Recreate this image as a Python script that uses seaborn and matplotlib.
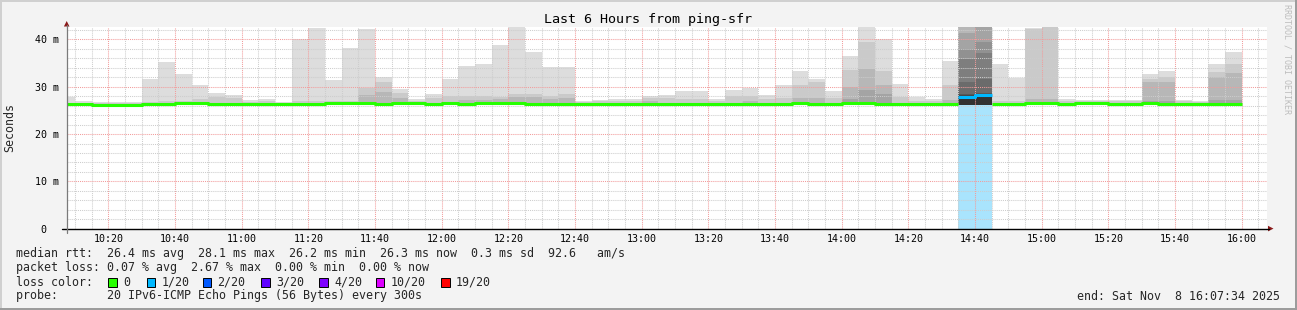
import numpy as np
import pandas as pd
import matplotlib
matplotlib.use("Agg")
import matplotlib.pyplot as plt
import seaborn as sns
from matplotlib.patches import Rectangle, Polygon
from matplotlib.lines import Line2D

# ---------------- data ----------------
# bar end times: 5-minute steps, 10:10 .. 16:00
bar_end = pd.date_range("2025-11-08 10:10", "2025-11-08 16:00", freq="5min")

median_rtt = [26.26, 26.26, 26.2, 26.2, 26.2, 26.26, 26.4, 26.47, 26.47, 26.4,
              26.33, 26.33, 26.33, 26.3, 26.33, 26.4, 26.47, 26.47, 26.47, 26.4,
              26.47, 26.47, 26.4, 26.47, 26.4, 26.6, 26.6, 26.54, 26.4, 26.26,
              26.4, 26.4, 26.33, 26.33, 26.33, 26.33, 26.33, 26.33, 26.33, 26.33,
              26.4, 26.4, 26.33, 26.33, 26.47, 26.4, 26.33, 26.47, 26.54, 26.4,
              26.33, 26.33, 26.4, 26.4, 27.8, 28.15, 26.4, 26.4, 26.47, 26.47,
              26.4, 26.47, 26.47, 26.4, 26.4, 26.47, 26.4, 26.4, 26.4, 26.4, 26.4]

loss_count = [0] * 54 + [1, 1] + [0] * 15

rtt_min = [26.0, 26.0, 25.9, 25.9, 25.9, 26.0, 26.0, 26.1, 26.1, 26.0,
           26.0, 26.0, 26.0, 26.0, 26.0, 26.1, 26.1, 26.1, 26.1, 26.0,
           26.1, 26.1, 26.0, 26.1, 26.0, 26.2, 26.1, 26.1, 26.0, 25.9,
           26.0, 26.1, 26.0, 26.0, 26.0, 26.0, 26.0, 26.0, 26.0, 26.0,
           26.1, 26.1, 26.0, 26.0, 26.1, 26.0, 26.0, 26.1, 26.1, 26.0,
           26.0, 26.0, 26.1, 26.1, 26.1, 26.1, 26.1, 26.1, 26.1, 26.1,
           26.0, 26.1, 26.1, 26.1, 26.1, 26.1, 26.1, 26.1, 26.1, 26.1, 26.1]

# smoke layer tops (outermost ping pair first)
smoke_1 = [27.8, 26.9, 26.8, 26.7, 26.7, 31.6, 35.1, 32.7, 30.4, 28.7,
           28.2, 27.2, 27.4, 26.8, 40.0, 42.4, 31.4, 38.2, 42.2, 32.0,
           29.5, 27.3, 28.5, 31.7, 34.4, 34.8, 38.8, 42.6, 37.3, 34.1,
           34.2, 26.9, 27.2, 27.4, 27.4, 28.0, 28.2, 29.1, 29.1, 27.4,
           29.3, 29.7, 28.2, 30.4, 33.3, 31.7, 29.1, 36.5, 43.0, 40.0,
           30.6, 27.8, 27.3, 35.3, 45.0, 45.0, 34.8, 31.9, 42.3, 43.0,
           27.3, 27.2, 27.1, 27.1, 27.2, 32.7, 33.3, 27.1, 26.9, 34.8, 37.3]

smoke_2 = [26.6, 26.6, 26.5, 26.5, 26.5, 26.7, 26.9, 26.9, 27.3, 27.9,
           27.5, 26.8, 26.9, 26.6, 26.9, 26.9, 26.9, 26.9, 29.6, 31.0,
           28.7, 26.9, 27.6, 28.0, 28.0, 28.0, 27.8, 28.4, 28.5, 28.0,
           28.4, 26.7, 27.0, 27.0, 27.0, 27.6, 27.5, 27.3, 27.3, 27.0,
           28.0, 28.0, 27.3, 27.6, 30.4, 31.0, 27.6, 33.5, 39.3, 33.2,
           27.9, 27.0, 27.0, 30.4, 44.0, 44.5, 26.9, 26.9, 42.1, 42.8,
           27.0, 27.0, 26.9, 26.9, 27.0, 31.7, 32.1, 26.9, 26.7, 33.1, 34.7]

smoke_3 = [None] * 18 + [28.3, 28.9, 27.6, None, None, None, 27.1, 27.1, 27.3, 27.8,
                         27.8, 27.3, 27.5, None, None, None, None, 27.0, None, None,
                         None, None, None, 26.9, None, None, 27.6, 27.5, None, 30.0,
                         33.8, 30.4, None, None, None, 27.2, 43.0, 44.0, None, None,
                         27.3, 27.3, None, None, None, None, None, 30.9, 31.0, None,
                         None, 32.05, 32.9]

smoke_4 = [None] * 47 + [27.4, 29.2, 28.5, None, None, None, None, 41.3, 43.5,
                         None, None, None, None, None, None, None, None, None,
                         27.0, 27.0, None, None, 27.2, 27.2]

# inner layers, only present in the two lossy bars
deep_bar_end = ["14:40", "14:45"]
smoke_5 = [38.0, 39.3]
smoke_6 = [35.8, 37.0]
smoke_7 = [31.0, 31.5]
smoke_8 = [28.5, 28.7]
smoke_9 = [28.3, 28.5]
smoke_10 = [28.1, 28.4]

tick_labels = ["10:20", "10:40", "11:00", "11:20", "11:40", "12:00", "12:20", "12:40",
               "13:00", "13:20", "13:40", "14:00", "14:20", "14:40", "15:00", "15:20",
               "15:40", "16:00"]
y_ticks = [0, 10, 20, 30, 40]
y_tick_labels = ["0  ", "10 m", "20 m", "30 m", "40 m"]

loss_labels = ["0", "1/20", "2/20", "3/20", "4/20", "10/20", "19/20"]
loss_colors = ["#26ff00", "#00b8ff", "#0059ff", "#5e00ff", "#7e00ff", "#dd00ff", "#ff0000"]

legend_lines = [
    "median rtt:  26.4 ms avg  28.1 ms max  26.2 ms min  26.3 ms now  0.3 ms sd  92.6   am/s",
    "packet loss: 0.07 % avg  2.67 % max  0.00 % min  0.00 % now",
    "loss color:",
    "probe:       20 IPv6-ICMP Echo Pings (56 Bytes) every 300s",
]
end_text = "end: Sat Nov  8 16:07:34 2025"
title = "Last 6 Hours from ping-sfr"

# ---------------- figure ----------------
sns.set_style("white")
plt.rcParams["font.family"] = ["DejaVu Sans Mono"]

W, H = 1297, 310
fig = plt.figure(figsize=(W / 100, H / 100), dpi=100)
fig.patch.set_facecolor("#f3f3f3")


def fx(px):
    return px / W


def fy(py):
    return 1 - py / H


ax = fig.add_axes([fx(67), fy(228.9), 1200 / W, (228.9 - 27.3) / H])
ax.set_facecolor("white")

to_min = lambda t: t.hour * 60 + t.minute
ends = np.array([to_min(t) for t in bar_end], float)
starts = ends - 5
t0 = 10 * 60 + 7 + 34 / 60
ax.set_xlim(t0, t0 + 360)
ax.set_ylim(0, 42.5)

low = np.array(rtt_min, float)
med = np.array(median_rtt, float)
loss = np.array(loss_count)

# loss background
lm = loss > 0
ax.bar(starts[lm], 42.5, bottom=0, width=5, align="edge", color="#a9e4fd",
       linewidth=0, zorder=0.8)

layer_colors = ["#dddddd", "#cacaca", "#b7b7b7", "#a4a4a4", "#919191",
                "#7e7e7e", "#6b6b6b", "#585858", "#454545", "#323232"]

for k, vals in enumerate([smoke_1, smoke_2, smoke_3, smoke_4]):
    v = np.array([np.nan if a is None else a for a in vals], float)
    m = ~np.isnan(v)
    ax.bar(starts[m], v[m] - low[m], bottom=low[m], width=5, align="edge",
           color=layer_colors[k], linewidth=0, zorder=1)

deep_end = np.array([int(s[:2]) * 60 + int(s[3:]) for s in deep_bar_end], float)
deep_low = np.array([low[list(ends).index(e)] for e in deep_end])
for k, vals in enumerate([smoke_5, smoke_6, smoke_7, smoke_8, smoke_9, smoke_10]):
    v = np.array(vals, float)
    ax.bar(deep_end - 5, v - deep_low, bottom=deep_low, width=5, align="edge",
           color=layer_colors[k + 4], linewidth=0, zorder=1)

# median line, split into runs of equal loss colour
rows = []
seg = 0
i = 0
n = len(med)
while i < n:
    j = i
    while j + 1 < n and loss[j + 1] == loss[i]:
        j += 1
    for q in range(i, j + 1):
        rows.append((starts[q], med[q], seg, str(loss[q])))
    rows.append((ends[j], med[j], seg, str(loss[j])))
    seg += 1
    i = j + 1
df_med = pd.DataFrame(rows, columns=["t", "rtt", "seg", "loss"])
sns.lineplot(data=df_med, x="t", y="rtt", units="seg", hue="loss",
             palette={"0": loss_colors[0], "1": loss_colors[1]},
             estimator=None, drawstyle="steps-post", legend=False,
             linewidth=2.2, solid_capstyle="butt", zorder=3, ax=ax)
ax.set_xlabel("")
ax.set_ylabel("")

# ticks & grid
tick_pos = [int(s[:2]) * 60 + int(s[3:]) for s in tick_labels]
ax.set_xticks(tick_pos)
ax.set_xticklabels(tick_labels)
ax.set_xticks(np.arange(610, 966, 5), minor=True)
ax.set_yticks(y_ticks)
ax.set_yticklabels(y_tick_labels)
ax.set_yticks(np.arange(0, 43, 2), minor=True)
ax.set_axisbelow(False)
ax.grid(which="minor", color="#cdcdcd", linestyle=(0, (1, 1)), linewidth=0.75)
ax.grid(which="major", color="#f29c9c", linestyle=(0, (1, 1)), linewidth=0.75)
ax.tick_params(axis="x", which="major", length=2.5, width=0.75, color="#e07070",
               labelsize=7.2, pad=1.5, labelcolor="black")
ax.tick_params(axis="x", which="minor", length=1.5, width=0.75, color="#aaaaaa")
ax.tick_params(axis="y", which="major", length=2.0, width=0.75, color="#888888",
               labelsize=7.2, pad=3.5, labelcolor="black")
ax.tick_params(axis="y", which="minor", length=1.2, width=0.75, color="#aaaaaa")
for s in ax.spines.values():
    s.set_visible(False)

# axis lines with arrows
fig.add_artist(Line2D([fx(62), fx(1269)], [fy(228.6), fy(228.6)], color="black", lw=1.0))
fig.add_artist(Line2D([fx(66.7), fx(66.7)], [fy(233), fy(25)], color="#7a7a7a", lw=0.9))
fig.add_artist(Polygon([(fx(1268), fy(225.8)), (fx(1268), fy(231.4)), (fx(1273.5), fy(228.6))],
                       closed=True, color="#8b1a1a", lw=0, transform=fig.transFigure))
fig.add_artist(Polygon([(fx(63.9), fy(26.5)), (fx(69.5), fy(26.5)), (fx(66.7), fy(21))],
                       closed=True, color="#8b1a1a", lw=0, transform=fig.transFigure))

# texts
fig.text(0.5, fy(19), title, ha="center", va="center", fontsize=9.6, color="black")
fig.text(fx(10), fy(127), "Seconds", rotation=90, ha="center", va="center", fontsize=8.4)
fig.text(fx(1287), fy(4), "RRDTOOL / TOBI OETIKER", rotation=270, ha="center", va="top",
         fontsize=6.0, color="#bdbdbd")

for line, yy in zip(legend_lines, [254, 268, 282, 296]):
    fig.text(fx(16), fy(yy), line, ha="left", va="center", fontsize=8.4)
fig.text(fx(1280), fy(296), end_text, ha="right", va="center", fontsize=8.4)

box_x = [108, 146.5, 202.5, 261, 319, 375.5, 441]
for bx, lab, col in zip(box_x, loss_labels, loss_colors):
    fig.add_artist(Rectangle((fx(bx), fy(286.5)), 8.5 / W, 8.5 / H, facecolor=col,
                             edgecolor="black", lw=0.7, transform=fig.transFigure))
    fig.text(fx(bx + 15), fy(282), lab, ha="left", va="center", fontsize=8.4)

# frame
fig.add_artist(Rectangle((0, 0), 2 / W, 1, facecolor="#d0d0d0", lw=0, transform=fig.transFigure))
fig.add_artist(Rectangle((0, 1 - 2 / H), 1, 2 / H, facecolor="#d0d0d0", lw=0, transform=fig.transFigure))
fig.add_artist(Rectangle((1 - 2 / W, 0), 2 / W, 1, facecolor="#9c9c9c", lw=0, transform=fig.transFigure))
fig.add_artist(Rectangle((0, 0), 1, 2 / H, facecolor="#9c9c9c", lw=0, transform=fig.transFigure))

fig.savefig("out.png", dpi=100, facecolor=fig.get_facecolor())
